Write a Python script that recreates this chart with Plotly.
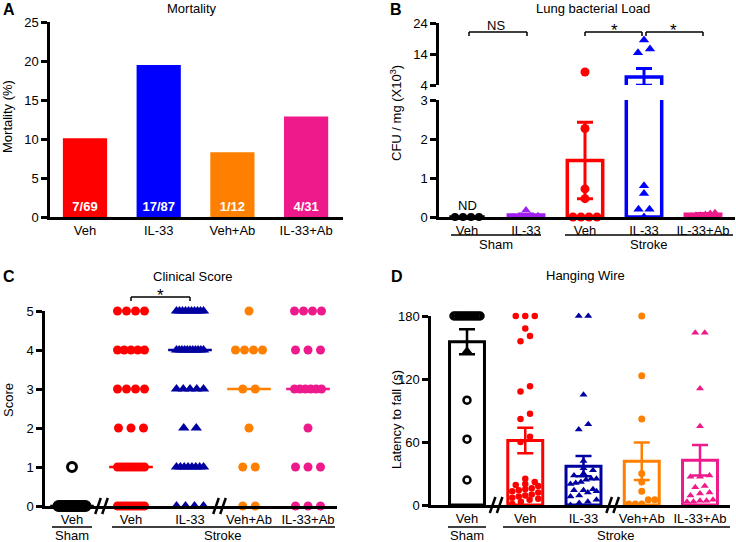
import numpy as np
import plotly.graph_objects as go

W, H = 736, 542
FONT = "Liberation Sans, Arial, Helvetica, sans-serif"

# ---------------- data ----------------
A_groups = ["Veh", "IL-33", "Veh+Ab", "IL-33+Ab"]
A_mortality = [10.1, 19.5, 8.3, 12.9]
A_deaths = ["7/69", "17/87", "1/12", "4/31"]

B_groups = ["Veh", "IL-33", "Veh", "IL-33", "IL-33+Ab"]
B_mean = [0.0, 0.05, 1.45, 6.6, 0.07]
B_sem = [0.0, 0.03, 0.98, 2.7, 0.02]
B_sham_veh = [0, 0, 0, 0]
B_sham_il33 = [0.0, 0.02, 0.03, 0.03, 0.18]
B_stroke_veh = [0, 0, 0, 0, 0.47, 0.72, 2.27, 8.2]
B_stroke_il33 = [0, 0.2, 0.2, 0.6, 0.8, 14.4, 15.6, 18.5]
B_stroke_il33ab = [0.03, 0.05, 0.06, 0.08, 0.1, 0.12]
B_lower_ticks = [0, 1, 2, 3]
B_upper_ticks = [4, 14, 24]

C_groups = ["Veh", "Veh", "IL-33", "Veh+Ab", "IL-33+Ab"]
C_sham_veh = [0, 0, 0, 0, 0, 0, 0, 0, 0, 0, 0, 0, 0, 0, 1]
C_stroke_veh = [5, 5, 5, 5, 4, 4, 4, 4, 4, 3, 3, 3, 3, 2, 2, 2,
                1, 1, 1, 1, 1, 1, 1, 1, 1, 1, 0, 0, 0, 0, 0, 0, 0, 0, 0, 0]
C_stroke_il33 = [5, 5, 5, 5, 5, 5, 5, 5, 5, 5, 4, 4, 4, 4, 4, 4, 4, 4, 4, 4, 4,
                 3, 3, 3, 3, 3, 2, 2, 1, 1, 1, 1, 1, 1, 1, 1, 0, 0, 0, 0]
C_stroke_vehab = [5, 4, 4, 4, 4, 3, 3, 2, 1, 1, 0, 0]
C_stroke_il33ab = [5, 5, 5, 5, 4, 4, 4, 3, 3, 3, 3, 3, 3, 2, 1, 1, 1, 0, 0, 0]

D_groups = ["Veh", "Veh", "IL-33", "Veh+Ab", "IL-33+Ab"]
D_mean = [155.5, 61.5, 37.0, 41.7, 42.6]
D_sem = [11.9, 12.1, 9.6, 17.9, 14.6]
D_sham_veh = [180, 180, 180, 180, 180, 180, 180, 180, 180, 180, 180, 180, 99.8, 62.7, 23.8]
D_sham_veh_tri = [147]
D_stroke_veh = [180, 180, 180, 168, 161, 156, 113, 108, 87, 82, 65, 60, 25, 22, 20, 19, 18,
                16, 15, 14, 13, 12, 10, 9, 8, 7, 6, 5, 3, 1]
D_stroke_il33 = [180, 180, 105, 77, 72, 42, 35, 33, 30, 28, 25, 25, 24, 22, 21, 20, 15, 14,
                 14, 13, 12, 9, 8, 5, 3, 2, 0]
D_stroke_vehab = [180, 123, 82, 30, 22, 13, 5, 5, 1, 1, 1]
D_stroke_il33ab = [164, 164, 111, 75, 28, 27, 27, 18, 17, 12, 11, 9, 5, 4, 4, 3, 3]

# ---------------- styles ----------------
RED = "#FF0000"
BLUE = "#0000FF"
NAVY = "#0000A0"
ORANGE = "#FF8000"
PINK = "#EE1A8C"
PURPLE = "#A020F0"
A_colors = [RED, BLUE, ORANGE, PINK]

# panel geometry in pixels (axis left/right, first category centre, category step, y bottom/top)
PANELS = {
    "A": dict(x0=50, x1=343, c0=85, step=73.7, yb=217, yt=22),
    "B": dict(x0=439, x1=735, c0=467, step=59.0, yb=217, yt=100),
    "Bu": dict(yb=85, yt=23),
    "C": dict(x0=45, x1=337, c0=72, step=59.0, yb=506, yt=311),
    "D": dict(x0=431, x1=730, c0=467, step=58.25, yb=505, yt=316),
}


def xr(p):
    return [-(p["c0"] - p["x0"]) / p["step"], (p["x1"] - p["c0"]) / p["step"]]


def xdom(p):
    return [p["x0"] / W, p["x1"] / W]


def ydom(p):
    return [1 - p["yb"] / H, 1 - p["yt"] / H]


def cpx(p, v):
    return p["c0"] + v * p["step"]


def swarm(vals, unit_px, step_px, d=6.5, max_span=26, max_step=10):
    v = np.asarray(vals, float)
    order = np.argsort(v, kind="stable")
    off = np.zeros(len(v))
    rows, row = [], []
    for i in order:
        if row and (v[i] - v[row[0]]) * unit_px >= d:
            rows.append(row)
            row = []
        row.append(i)
    if row:
        rows.append(row)
    for r in rows:
        n = len(r)
        if n > 1:
            s = min(max_step, max_span / (n - 1))
            for k, i in enumerate(r):
                off[i] = (k - (n - 1) / 2) * s
    return off / step_px


fig = go.Figure()


def points(vals, idx, xa, ya, color, symbol, size, unit_px, step_px, open_=False, lw=0, **kw):
    vals = list(vals)
    if len(vals) == 0:
        return
    off = swarm(vals, unit_px, step_px, **kw)
    marker = dict(color=color, symbol=symbol, size=size, line=dict(width=lw, color=color))
    if open_:
        marker = dict(color=color, symbol=symbol + "-open", size=size, line=dict(width=lw, color=color))
    fig.add_trace(go.Scatter(x=idx + off, y=vals, mode="markers", xaxis=xa, yaxis=ya,
                             marker=marker, cliponaxis=False, showlegend=False, hoverinfo="y"))


# ---------------- Panel A ----------------
fig.add_trace(go.Bar(
    x=list(range(len(A_groups))), y=A_mortality, width=0.6, xaxis="x", yaxis="y",
    marker=dict(color=A_colors, line=dict(width=0)),
    text=A_deaths, texttemplate="<b>%{text}</b>", textposition="inside", insidetextanchor="start",
    textangle=0, constraintext="none",
    textfont=dict(color="white", size=13, family=FONT), showlegend=False))

# ---------------- Panel B ----------------
B_colors = ["black", PURPLE, RED, BLUE, PINK]
for i, (m, s, c) in enumerate(zip(B_mean, B_sem, B_colors)):
    for ya in ("y2", "y3"):
        fig.add_trace(go.Bar(
            x=[i], y=[m], width=0.6, xaxis="x2", yaxis=ya,
            marker=dict(color="rgba(255,255,255,0)", line=dict(color=c, width=3.5)),
            error_y=dict(type="data", array=[s], color=c, thickness=3, width=8, visible=s > 0),
            showlegend=False, hoverinfo="y"))

B_series = [
    (0, B_sham_veh, "black", "circle", 8),
    (1, B_sham_il33, PURPLE, "triangle-up", 8),
    (2, B_stroke_veh, RED, "circle", 9),
    (3, B_stroke_il33, BLUE, "triangle-up", 9),
    (4, B_stroke_il33ab, PINK, "triangle-up", 7),
]
for i, vals, c, sym, sz in B_series:
    low = [v for v in vals if v <= 3]
    high = [v for v in vals if v > 3]
    points(low, i, "x2", "y2", c, sym, sz, 39.0, PANELS["B"]["step"], max_span=24, max_step=11)
    points(high, i, "x2", "y3", c, sym, sz, 3.1, PANELS["B"]["step"], max_span=24, max_step=12)

# ---------------- Panel C ----------------
C_series = [
    (0, C_sham_veh, "black", "circle", 9, True),
    (1, C_stroke_veh, RED, "circle", 9, False),
    (2, C_stroke_il33, NAVY, "triangle-up", 10, False),
    (3, C_stroke_vehab, ORANGE, "circle", 9, False),
    (4, C_stroke_il33ab, PINK, "circle", 9, False),
]
for i, vals, c, sym, sz, op in C_series:
    med = float(np.median(vals))
    fig.add_trace(go.Scatter(x=[i - 0.37, i + 0.37], y=[med, med], mode="lines", xaxis="x3", yaxis="y4",
                             line=dict(color=c, width=2.5), showlegend=False, hoverinfo="skip",
                             cliponaxis=False))
    points(vals, i, "x3", "y4", c, sym, sz, 39.0, PANELS["C"]["step"], open_=op, lw=3 if op else 0,
           max_span=27, max_step=12.5)

# ---------------- Panel D ----------------
D_colors = ["black", RED, NAVY, ORANGE, PINK]
for i, (m, s, c) in enumerate(zip(D_mean, D_sem, D_colors)):
    fig.add_trace(go.Bar(
        x=[i], y=[m], width=0.6, xaxis="x4", yaxis="y5",
        marker=dict(color="white", line=dict(color=c, width=3)),
        error_y=dict(type="data", array=[s], color=c, thickness=2.5, width=8),
        showlegend=False, hoverinfo="y"))
D_series = [
    (0, D_sham_veh, "black", "circle", 7, True),
    (1, D_stroke_veh, RED, "circle", 6.5, False),
    (2, D_stroke_il33, NAVY, "triangle-up", 7, False),
    (3, D_stroke_vehab, ORANGE, "circle", 7, False),
    (4, D_stroke_il33ab, PINK, "triangle-up", 7, False),
]
for i, vals, c, sym, sz, op in D_series:
    points(vals, i, "x4", "y5", c, sym, sz, 1.05, PANELS["D"]["step"], open_=op, lw=2.5 if op else 0,
           d=6, max_span=26, max_step=9.5)
points(D_sham_veh_tri, 0, "x4", "y5", "black", "triangle-up", 9, 1.05, PANELS["D"]["step"])

# ---------------- axes ----------------
tickfont = dict(size=13, color="black", family=FONT)
common_x = dict(showline=True, linewidth=2.5, linecolor="black", showgrid=False, zeroline=False,
                ticks="", tickfont=tickfont, tickmode="array", fixedrange=True, automargin=False)
common_y = dict(showline=True, linewidth=2.5, linecolor="black", showgrid=False, zeroline=False,
                ticks="outside", ticklen=6, tickwidth=2.5, tickcolor="black", tickfont=tickfont,
                tickmode="array", fixedrange=True, automargin=False)

PA, PB, PBu, PC, PD = PANELS["A"], PANELS["B"], PANELS["Bu"], PANELS["C"], PANELS["D"]
fig.update_layout(
    xaxis=dict(common_x, domain=xdom(PA), range=xr(PA), anchor="y",
               tickvals=list(range(len(A_groups))), ticktext=A_groups),
    yaxis=dict(common_y, domain=ydom(PA), range=[0, 25], anchor="x", tickvals=[0, 5, 10, 15, 20, 25]),
    xaxis2=dict(common_x, domain=xdom(PB), range=xr(PB), anchor="y2",
                tickvals=list(range(len(B_groups))), ticktext=B_groups),
    yaxis2=dict(common_y, domain=ydom(PB), range=[0, 3], anchor="x2", tickvals=B_lower_ticks),
    yaxis3=dict(common_y, domain=ydom(PBu), range=[4, 24], anchor="x2", tickvals=B_upper_ticks),
    xaxis3=dict(common_x, domain=xdom(PC), range=xr(PC), anchor="y4",
                tickvals=list(range(len(C_groups))), ticktext=C_groups),
    yaxis4=dict(common_y, domain=ydom(PC), range=[0, 5], anchor="x3", tickvals=[0, 1, 2, 3, 4, 5]),
    xaxis4=dict(common_x, domain=xdom(PD), range=xr(PD), anchor="y5",
                tickvals=list(range(len(D_groups))), ticktext=D_groups),
    yaxis5=dict(common_y, domain=ydom(PD), range=[0, 180], anchor="x4", tickvals=[0, 60, 120, 180]),
)

# ---------------- annotations & shapes ----------------
ann, shapes = [], []


def text(x, y, s, size=13, angle=0, xanchor="center", yanchor="middle"):
    ann.append(dict(x=x / W, y=1 - y / H, xref="paper", yref="paper", text=s, showarrow=False,
                    font=dict(size=size, color="black", family=FONT), textangle=angle,
                    xanchor=xanchor, yanchor=yanchor))


def line(x0, y0, x1, y1, w=1.5):
    shapes.append(dict(type="line", xref="paper", yref="paper", x0=x0 / W, y0=1 - y0 / H,
                       x1=x1 / W, y1=1 - y1 / H, line=dict(color="black", width=w), layer="above"))


def bracket(xa, xb, y, drop=4):
    line(xa, y + drop, xa, y)
    line(xa, y, xb, y)
    line(xb, y, xb, y + drop)


def brk(xc, yc):
    for dx in (-3.5, 3.5):
        line(xc + dx - 2.8, yc + 8, xc + dx + 2.8, yc - 8, w=2.5)


# panel letters
text(1, 10, "<b>A</b>", size=16, xanchor="left")
text(388, 10, "<b>B</b>", size=16, xanchor="left")
text(1, 276, "<b>C</b>", size=16, xanchor="left")
text(389, 276, "<b>D</b>", size=16, xanchor="left")

# titles
text(192, 8, "Mortality")
text(593, 8, "Lung bacterial Load")
text(192, 276, "Clinical Score")
text(585, 275, "Hanging Wire")

# axis titles
text(8, 117, "Mortality (%)", angle=-90)
text(396, 113, "CFU / mg (X10<sup>3</sup>)", angle=-90)
text(8, 400, "Score", angle=-90)
text(396, 419, "Latency to fall (s)", angle=-90)

# panel B extras
text(cpx(PB, 0), 206, "ND")
bracket(cpx(PB, 0) + 2, cpx(PB, 1) + 1, 32)
text((cpx(PB, 0) + cpx(PB, 1)) / 2, 25, "NS")
bracket(cpx(PB, 2), cpx(PB, 3) - 2, 32)
bracket(cpx(PB, 3) + 2, cpx(PB, 4), 32)
text((cpx(PB, 2) + cpx(PB, 3)) / 2, 30, "*", size=17)
text((cpx(PB, 3) + cpx(PB, 4)) / 2, 30, "*", size=17)
line(451, 235, 541, 235)
line(565, 235, 733, 235)
text(496, 244, "Sham")
text(649, 244, "Stroke")

# panel C extras
bracket(cpx(PC, 1), cpx(PC, 2), 297)
text((cpx(PC, 1) + cpx(PC, 2)) / 2, 295, "*", size=17)
brk(cpx(PC, 0.5), PC["yb"])
brk(cpx(PC, 2.5), PC["yb"])
line(52, 527, 92, 527)
line(112, 527, 335, 527)
text(72, 535, "Sham")
text(223, 535, "Stroke")

# panel D extras
brk(cpx(PD, 0.5), PD["yb"])
brk(cpx(PD, 2.5), PD["yb"])
line(448, 527, 486, 527)
line(503, 527, 730, 527)
text(467, 535, "Sham")
text(616, 535, "Stroke")

fig.update_layout(
    template="none",
    width=W, height=H, margin=dict(l=0, r=0, t=0, b=0, pad=0, autoexpand=False),
    paper_bgcolor="white", plot_bgcolor="white",
    barmode="overlay", showlegend=False,
    font=dict(family=FONT, color="black", size=13),
    annotations=ann, shapes=shapes,
)

fig.write_html("out.html", config={"displayModeBar": False, "responsive": False},
               post_script="document.body.style.margin='0';document.body.style.overflow='hidden';")
